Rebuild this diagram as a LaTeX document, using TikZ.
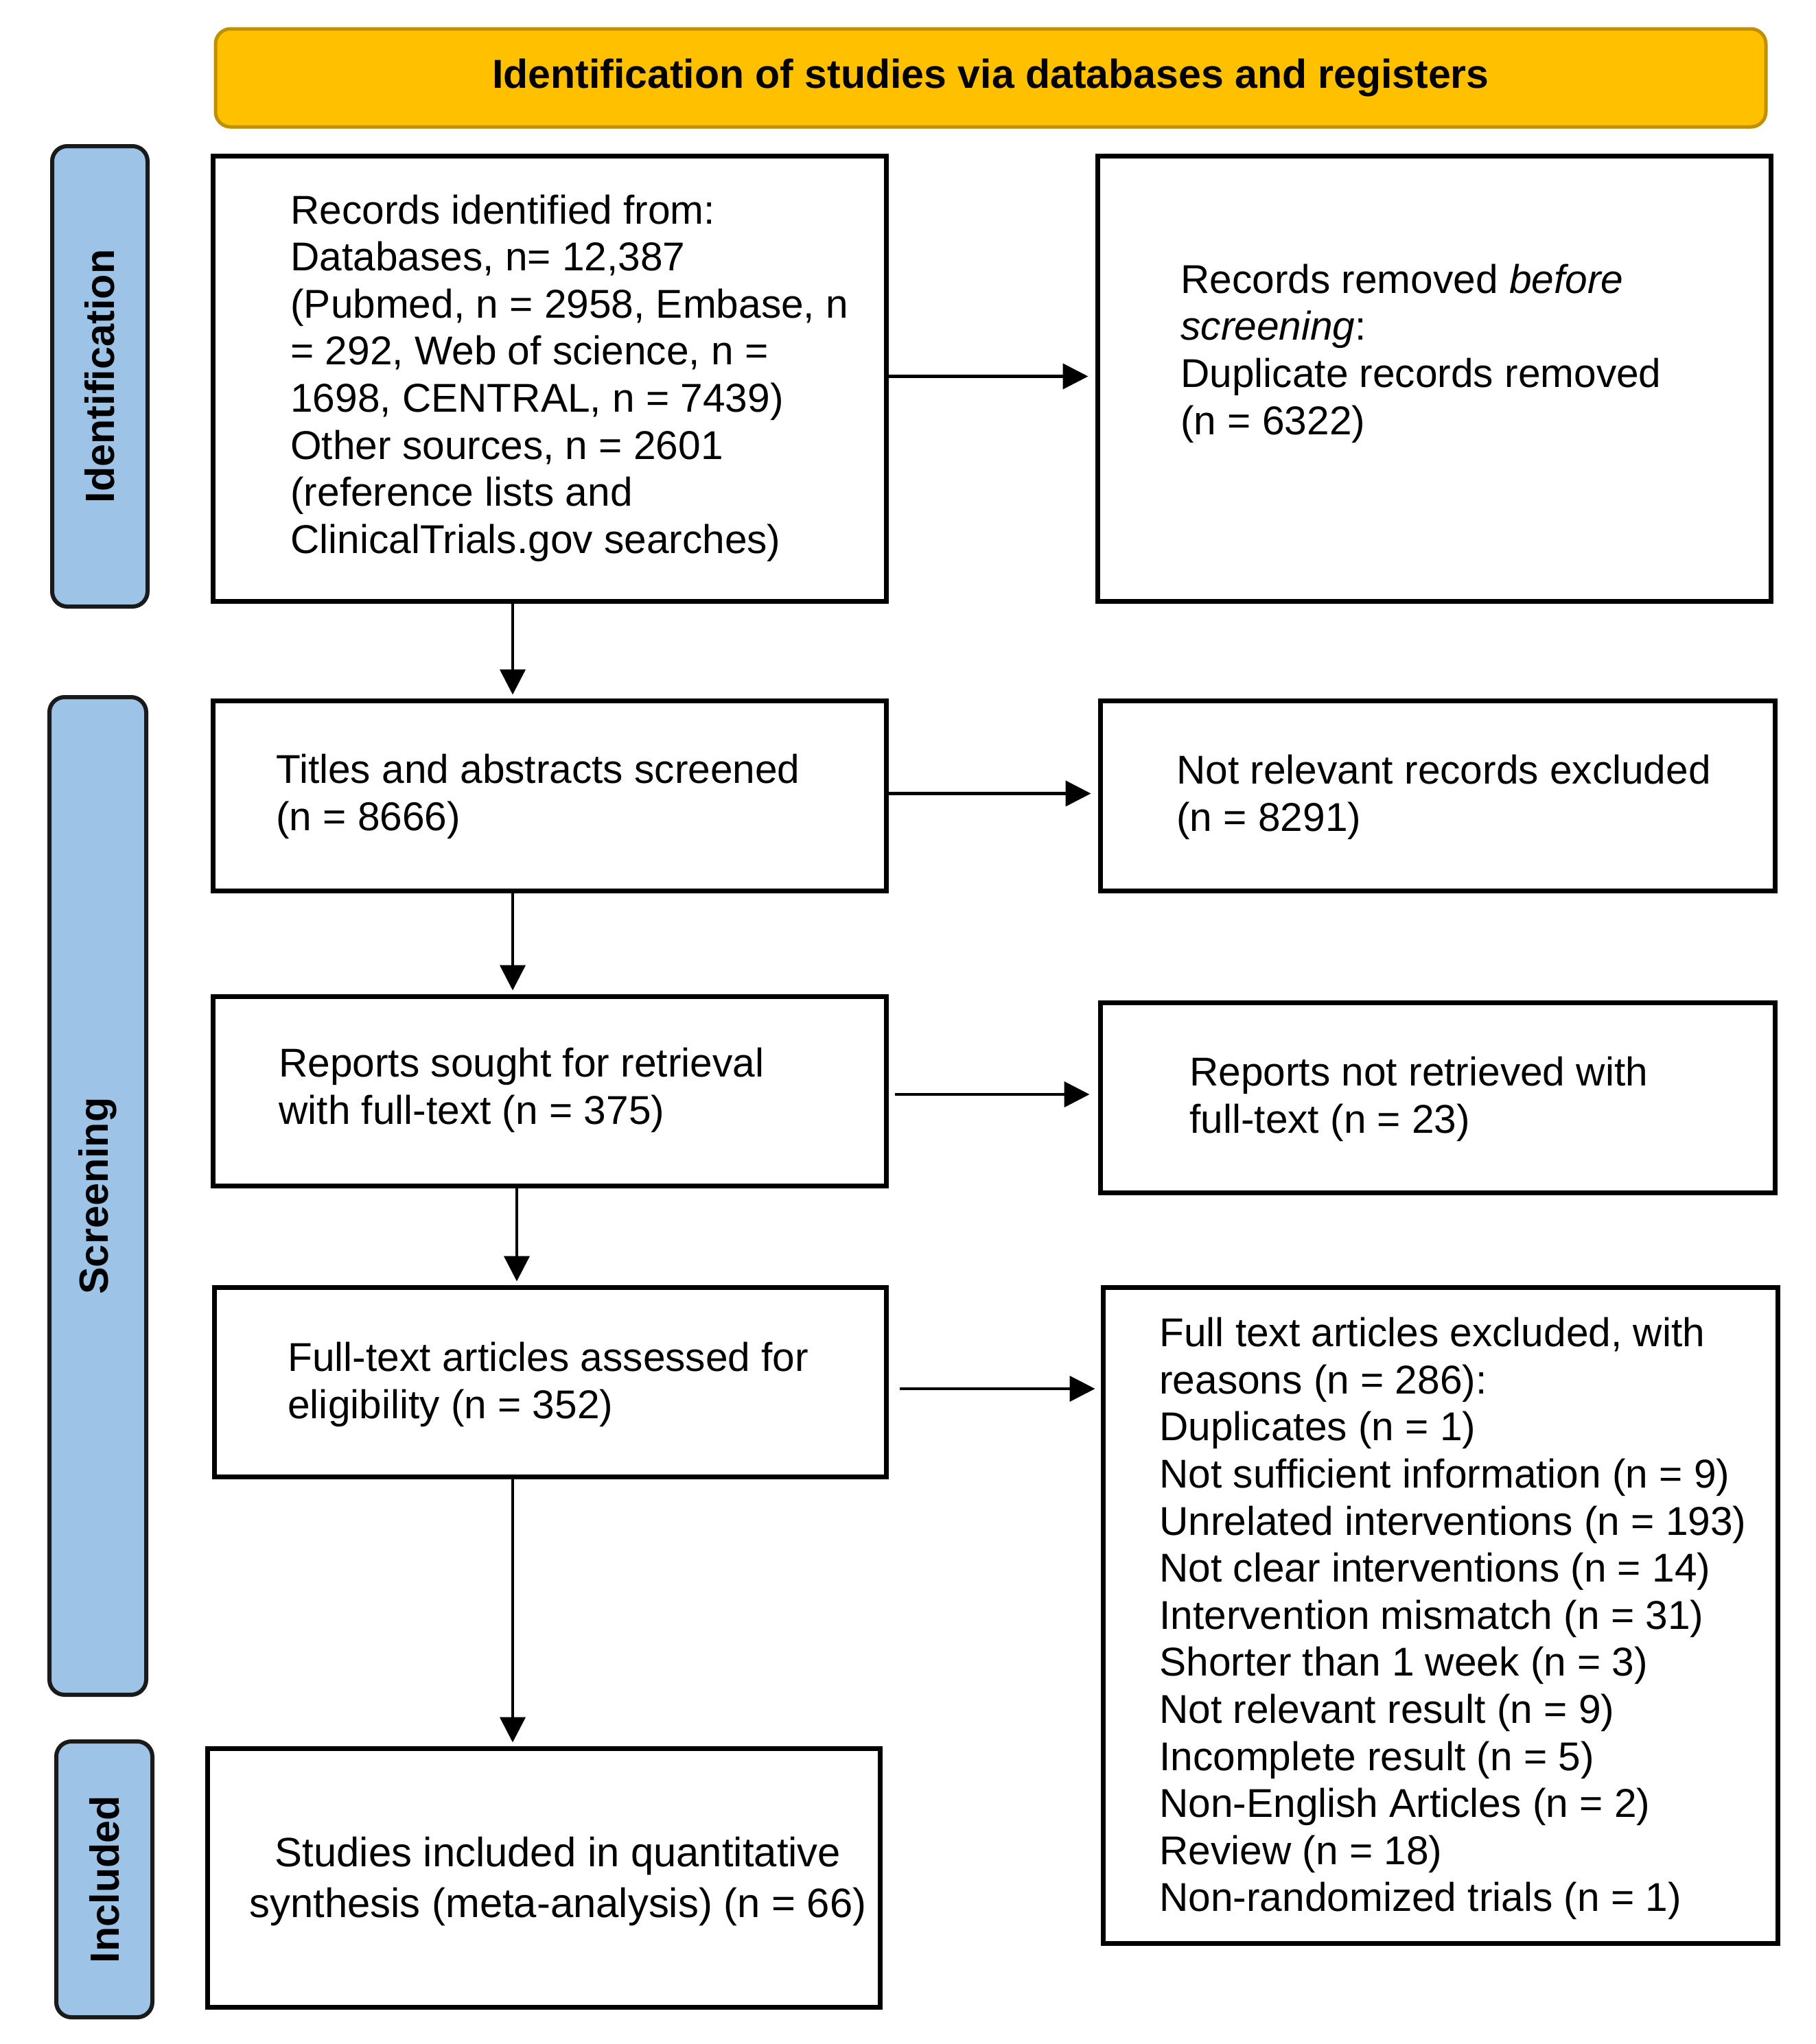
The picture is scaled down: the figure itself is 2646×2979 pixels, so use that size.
\documentclass[tikz,border=0pt]{standalone}
\usepackage{fontspec}
\setmainfont{Liberation Sans}
\usetikzlibrary{arrows.meta,calc}
\definecolor{hdrfill}{HTML}{FFC000}
\definecolor{hdrline}{HTML}{BF9000}
\definecolor{sidefill}{HTML}{9DC3E6}
\definecolor{sideline}{HTML}{1A1A1A}
\begin{document}
\begin{tikzpicture}[x=0.5pt,y=-0.5pt,
  boxnode/.style={draw=black, line width=3.5pt, fill=white, inner sep=0pt},
  txt/.style={inner sep=0pt, align=left, anchor=west, font=\fontsize{29.3}{34.3}\selectfont},
  side/.style={draw=sideline, fill=sidefill, line width=3pt, rounded corners=11pt, inner sep=0pt},
  sidetxt/.style={rotate=90, inner sep=0pt, font=\fontsize{29.7}{34}\selectfont\bfseries},
  arr/.style={draw=black, line width=2.2pt, -{Triangle[length=18.5pt,width=18.5pt]}}
]
\useasboundingbox (0,0) rectangle (2646,2979);
\fill[white] (0,0) rectangle (2646,2979);

% header
\node[draw=hdrline, fill=hdrfill, line width=2.5pt, rounded corners=11pt,
      minimum width=1129.5pt, minimum height=71.5pt, inner sep=0pt,
      font=\fontsize{29.5}{34}\selectfont\bfseries] (hdr) at (1443.5,113.5)
      {Identification of studies via databases and registers};

% side labels
\node[side, minimum width=69.5pt, minimum height=335.5pt] (sI) at (145.5,548.5) {};
\node[sidetxt] (sIt) at (sI.center) {Identification};
\node[side, minimum width=70.5pt, minimum height=727pt] (sS) at (142.5,1743) {};
\node[sidetxt] (sSt) at (sS.center) {Screening};
\node[side, minimum width=70pt, minimum height=201pt] (sN) at (152,2739) {};
\node[sidetxt] (sNt) at (sN.center) {Included};

% boxes
\node[boxnode, minimum width=490.5pt, minimum height=324.5pt] (b1) at (800.5,551.5) {};
\node[boxnode, minimum width=490.5pt, minimum height=324.5pt] (b2) at (2089.5,551.5) {};
\node[boxnode, minimum width=490.5pt, minimum height=138.5pt] (b3) at (800.5,1159.5) {};
\node[boxnode, minimum width=491.5pt, minimum height=138.5pt] (b4) at (2094.5,1159.5) {};
\node[boxnode, minimum width=490.5pt, minimum height=138pt] (b5) at (800.5,1590) {};
\node[boxnode, minimum width=491.5pt, minimum height=138.5pt] (b6) at (2094.5,1599.5) {};
\node[boxnode, minimum width=489.5pt, minimum height=138pt] (b7) at (801.5,2014) {};
\node[boxnode, minimum width=491.5pt, minimum height=478pt] (b8) at (2098.5,2354) {};
\node[boxnode, minimum width=490pt, minimum height=188.5pt] (b9) at (792,2736.5) {};

% texts
\node[txt] (t1) at (423,551) {Records identified from:\\Databases, n= 12,387\\(Pubmed, n = 2958, Embase, n\\= 292, Web of science, n =\\1698, CENTRAL, n = 7439)\\Other sources, n = 2601\\(reference lists and\\ClinicalTrials.gov searches)};
\node[txt] (t2) at (1720,515) {Records removed \textit{before}\\\textit{screening}:\\Duplicate records removed\\(n = 6322)};
\node[txt] (t3) at (402,1161) {Titles and abstracts screened\\(n = 8666)};
\node[txt] (t4) at (1714,1162) {Not relevant records excluded\\(n = 8291)};
\node[txt] (t5) at (406,1589) {Reports sought for retrieval\\with full-text (n = 375)};
\node[txt] (t6) at (1733,1602) {Reports not retrieved with\\full-text (n = 23)};
\node[txt] (t7) at (419,2018) {Full-text articles assessed for\\eligibility (n = 352)};
\node[txt] (t8) at (1689,2359) {Full text articles excluded, with\\reasons (n = 286):\\Duplicates (n = 1)\\Not sufficient information (n = 9)\\Unrelated interventions (n = 193)\\Not clear interventions (n = 14)\\Intervention mismatch (n = 31)\\Shorter than 1 week (n = 3)\\Not relevant result (n = 9)\\Incomplete result (n = 5)\\Non-English Articles (n = 2)\\Review (n = 18)\\Non-randomized trials (n = 1)};
\node[inner sep=0pt, align=center, font=\fontsize{29.9}{37}\selectfont] (t9) at (813,2742) {Studies included in quantitative\\synthesis (meta-analysis) (n = 66)};

% horizontal arrows
\draw[arr, shorten >=5pt] ($(b1.east)+(0,-3)$) -- ($(b2.west)+(0,-3)$);
\draw[arr, shorten >=5pt] ($(b3.east)+(0,-3)$) -- ($(b4.west)+(0,-3)$);
\draw[arr, shorten >=6pt, shorten <=4.5pt] ($(b5.east)+(0,5)$) -- ($(b5.east -| b6.west)+(0,5)$);
\draw[arr, shorten >=4pt, shorten <=8pt] ($(b7.east)+(0,10)$) -- ($(b7.east -| b8.west)+(0,10)$);

% vertical arrows
\draw[arr, shorten >=2.5pt] ($(b1.south)+(-53.5,0)$) -- ($(b3.north)+(-53.5,0)$);
\draw[arr, shorten >=2.5pt] ($(b3.south)+(-53.5,0)$) -- ($(b5.north)+(-53.5,0)$);
\draw[arr, shorten >=2.5pt] ($(b5.south)+(-47.5,0)$) -- ($(b7.north)+(-48.5,0)$);
\draw[arr, shorten >=2.5pt] ($(b7.south)+(-54.5,0)$) -- ($(b9.north)+(-45,0)$);
\end{tikzpicture}
\end{document}
